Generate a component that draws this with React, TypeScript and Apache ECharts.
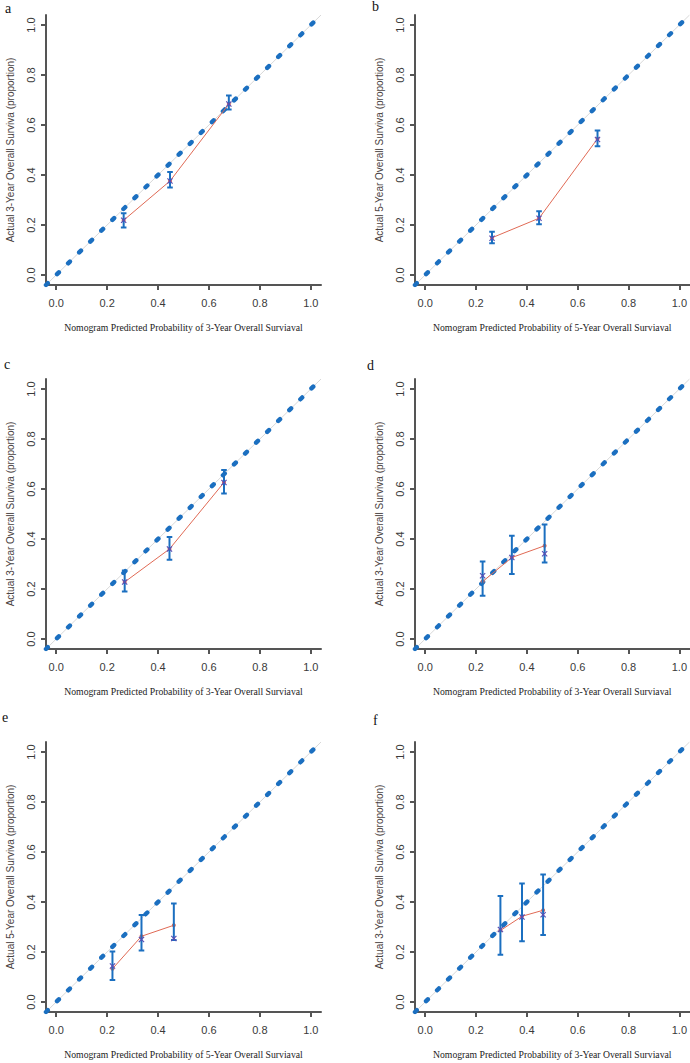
import React, { useEffect, useRef } from "react";
import * as echarts from "echarts";

// ---- Data ----
const ticks = [0, 0.2, 0.4, 0.6, 0.8, 1.0];
const diagX = [-0.04, 1.04];
const diagY = [-0.04, 1.04];

const predA = [0.265, 0.447, 0.678];
const obsA = [0.219, 0.376, 0.684];
const corrA = [0.219, 0.376, 0.684];
const lowA = [0.19, 0.35, 0.662];
const highA = [0.247, 0.412, 0.718];

const predB = [0.263, 0.448, 0.678];
const obsB = [0.149, 0.227, 0.545];
const corrB = [0.147, 0.227, 0.542];
const lowB = [0.127, 0.203, 0.515];
const highB = [0.173, 0.255, 0.578];

const predC = [0.269, 0.445, 0.659];
const obsC = [0.228, 0.36, 0.626];
const corrC = [0.228, 0.36, 0.626];
const lowC = [0.19, 0.317, 0.582];
const highC = [0.274, 0.408, 0.676];

const predD = [0.226, 0.341, 0.47];
const obsD = [0.23, 0.326, 0.373];
const corrD = [0.253, 0.326, 0.341];
const lowD = [0.173, 0.26, 0.306];
const highD = [0.31, 0.413, 0.458];

const predE = [0.221, 0.335, 0.462];
const obsE = [0.133, 0.263, 0.307];
const corrE = [0.144, 0.25, 0.254];
const lowE = [0.088, 0.206, 0.248];
const highE = [0.202, 0.348, 0.394];

const predF = [0.296, 0.381, 0.464];
const obsF = [0.286, 0.343, 0.367];
const corrF = [0.29, 0.34, 0.349];
const lowF = [0.189, 0.243, 0.268];
const highF = [0.424, 0.474, 0.51];

const yTitle3 = "Actual 3-Year Overall Surviva (proportion)";
const yTitle5 = "Actual 5-Year Overall Surviva (proportion)";
const xTitle3 = "Nomogram Predicted Probability of 3-Year Overall Surviaval";
const xTitle5 = "Nomogram Predicted Probability of 5-Year Overall Surviaval";

const panels = [
  { letter: "a", pred: predA, obs: obsA, corr: corrA, low: lowA, high: highA, yt: yTitle3, xt: xTitle3 },
  { letter: "b", pred: predB, obs: obsB, corr: corrB, low: lowB, high: highB, yt: yTitle5, xt: xTitle5 },
  { letter: "c", pred: predC, obs: obsC, corr: corrC, low: lowC, high: highC, yt: yTitle3, xt: xTitle3 },
  { letter: "d", pred: predD, obs: obsD, corr: corrD, low: lowD, high: highD, yt: yTitle3, xt: xTitle3 },
  { letter: "e", pred: predE, obs: obsE, corr: corrE, low: lowE, high: highE, yt: yTitle5, xt: xTitle5 },
  { letter: "f", pred: predF, obs: obsF, corr: corrF, low: lowF, high: highF, yt: yTitle3, xt: xTitle3 },
];

// ---- Layout ----
const colLeft = [46, 415];
const rowTop = [15, 379, 742];
const gridW = 275;
const gridH = 270;
const letterPos = [
  [5, 12],
  [372, 10],
  [4, 368],
  [367, 369],
  [2, 721],
  [373, 724],
];

const BLUE = "#1b6fc0";
const XCOL = "#5a4fb3";
const RED = "#e06a55";
const AXIS = "#555555";
const LABEL = "#3a3a3a";
const SANS = "'Liberation Sans', Arial, sans-serif";
const SERIF = "'Liberation Serif', 'Times New Roman', serif";

export default function App() {
  const ref = useRef<HTMLDivElement>(null);
  useEffect(() => {
    if (!ref.current) return;
    const chart = echarts.init(ref.current, null, { renderer: "svg" });
    const grid: any[] = [];
    const xAxis: any[] = [];
    const yAxis: any[] = [];
    const series: any[] = [];
    const graphic: any[] = [];

    panels.forEach((p, i) => {
      const col = i % 2;
      const row = Math.floor(i / 2);
      grid.push({ left: colLeft[col], top: rowTop[row], width: gridW, height: gridH, containLabel: false });
      const common = {
        type: "value",
        min: -0.04,
        max: 1.04,
        gridIndex: i,
        splitLine: { show: false },
        axisLine: { show: true, onZero: false, lineStyle: { color: AXIS, width: 2 } },
        axisTick: { show: true, length: 5, customValues: ticks, lineStyle: { color: AXIS, width: 2 } },
      };
      xAxis.push({
        ...common,
        axisLabel: {
          customValues: ticks,
          margin: 12,
          color: LABEL,
          fontFamily: SANS,
          fontSize: 11,
          formatter: (v: number) => v.toFixed(1),
        },
        name: p.xt,
        nameLocation: "middle",
        nameGap: 37,
        nameTextStyle: { fontFamily: SERIF, fontSize: 9.7, color: "#222" },
      });
      yAxis.push({
        ...common,
        axisLabel: {
          customValues: ticks,
          margin: 10,
          rotate: 90,
          color: LABEL,
          fontFamily: SANS,
          fontSize: 11,
          formatter: (v: number) => v.toFixed(1),
        },
        name: p.yt,
        nameLocation: "middle",
        nameGap: 31,
        nameTextStyle: { fontFamily: SANS, fontSize: 10, color: "#4a4242" },
      });

      const diag = diagX.map((x, k) => [x, diagY[k]]);
      // gray reference line
      series.push({
        type: "line",
        xAxisIndex: i,
        yAxisIndex: i,
        data: diag,
        symbol: "none",
        lineStyle: { color: "#d8d8d8", width: 1 },
        z: 1,
      });
      // blue dotted ideal line
      series.push({
        type: "line",
        xAxisIndex: i,
        yAxisIndex: i,
        data: diag,
        symbol: "none",
        lineStyle: { color: BLUE, width: 4.5, type: [2.5, 13], cap: "round" },
        z: 2,
      });
      // red apparent line
      series.push({
        type: "line",
        xAxisIndex: i,
        yAxisIndex: i,
        data: p.pred.map((x, k) => [x, p.obs[k]]),
        symbol: "circle",
        symbolSize: 4,
        itemStyle: { color: RED },
        lineStyle: { color: RED, width: 1 },
        z: 3,
      });
      // error bars + X marks
      series.push({
        type: "custom",
        xAxisIndex: i,
        yAxisIndex: i,
        data: p.pred.map((x, k) => [x, p.low[k], p.high[k], p.corr[k]]),
        encode: { x: 0, y: [1, 2] },
        z: 4,
        renderItem: (params: any, api: any) => {
          const x = api.value(0);
          const lo = api.coord([x, api.value(1)]);
          const hi = api.coord([x, api.value(2)]);
          const c = api.coord([x, api.value(3)]);
          const cw = 2.8;
          const s = 2.6;
          const st = { stroke: BLUE, lineWidth: 2 };
          const xs = { stroke: XCOL, lineWidth: 1.2 };
          return {
            type: "group",
            children: [
              { type: "line", shape: { x1: lo[0], y1: lo[1], x2: hi[0], y2: hi[1] }, style: st },
              { type: "line", shape: { x1: lo[0] - cw, y1: lo[1], x2: lo[0] + cw, y2: lo[1] }, style: st },
              { type: "line", shape: { x1: hi[0] - cw, y1: hi[1], x2: hi[0] + cw, y2: hi[1] }, style: st },
              { type: "line", shape: { x1: c[0] - s, y1: c[1] - s, x2: c[0] + s, y2: c[1] + s }, style: xs },
              { type: "line", shape: { x1: c[0] - s, y1: c[1] + s, x2: c[0] + s, y2: c[1] - s }, style: xs },
            ],
          };
        },
      });

      graphic.push({
        type: "text",
        left: letterPos[i][0],
        top: letterPos[i][1] - 11,
        style: { text: p.letter, font: "14px 'Liberation Serif'", fill: "#111" },
      });
    });

    chart.setOption({
      animation: false,
      backgroundColor: "#ffffff",
      grid,
      xAxis,
      yAxis,
      series,
      graphic,
    });
    return () => chart.dispose();
  }, []);

  return (
    <div
      ref={ref}
      style={{ position: "absolute", left: 0, top: 0, width: 690, height: 1063, background: "#fff" }}
    />
  );
}
